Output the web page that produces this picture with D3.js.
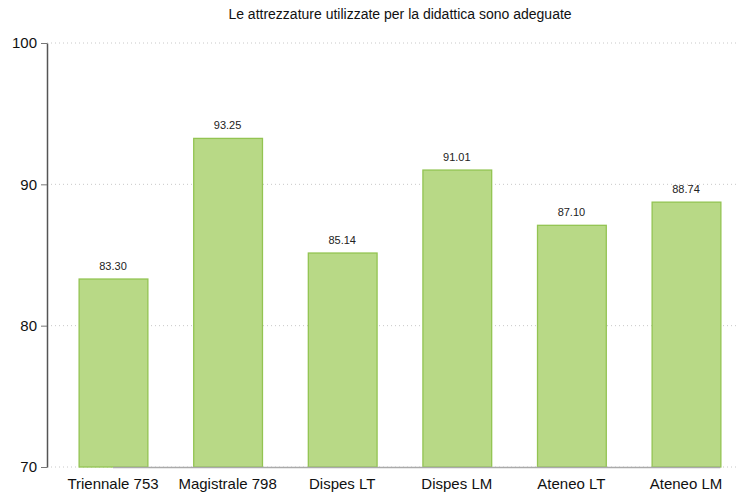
<!DOCTYPE html>
<html><head><meta charset="utf-8">
<script src="https://cdn.jsdelivr.net/npm/d3@7"></script>
<style>body{margin:0;background:#fff}svg{display:block}</style>
</head><body>
<script>
const categories = ["Triennale 753","Magistrale 798","Dispes LT","Dispes LM","Ateneo LT","Ateneo LM"];
const values = [83.30, 93.25, 85.14, 91.01, 87.10, 88.74];
const yTicks = [70, 80, 90, 100];
const title = "Le attrezzature utilizzate per la didattica sono adeguate";

const W = 740, H = 493;
const svg = d3.select("body").append("svg").attr("width", W).attr("height", H);
const font = "'Liberation Sans', Arial, sans-serif";

const y = d3.scaleLinear().domain([70, 100]).range([467, 43]);
const x = d3.scaleBand().domain(categories).range([55.7, 743.3]).paddingInner(0.4).paddingOuter(0.2);

// grid
svg.append("g").selectAll("line").data(yTicks).join("line")
  .attr("x1", 47).attr("x2", 736)
  .attr("y1", d => y(d)).attr("y2", d => y(d))
  .attr("stroke", "#c8c8c8").attr("stroke-width", 1).attr("stroke-dasharray", "1,3");

// bars
svg.append("g").selectAll("rect").data(values).join("rect")
  .attr("x", (d, i) => x(categories[i]) + 0.5)
  .attr("y", d => y(d))
  .attr("width", x.bandwidth())
  .attr("height", d => y(70) - y(d))
  .attr("fill", "#b8d986").attr("stroke", "#93c452").attr("stroke-width", 1.3);

// x baseline
svg.append("line")
  .attr("x1", x(categories[0]) + x.bandwidth() / 2)
  .attr("x2", x(categories[categories.length - 1]) + x.bandwidth())
  .attr("y1", y(70) + 0.5).attr("y2", y(70) + 0.5)
  .attr("stroke", "#aaaaaa").attr("stroke-width", 1.5);

// value labels
svg.append("g").selectAll("text").data(values).join("text")
  .attr("x", (d, i) => x(categories[i]) + x.bandwidth() / 2)
  .attr("y", d => y(d) - 9)
  .attr("text-anchor", "middle")
  .attr("font-family", font).attr("font-size", 11).attr("fill", "#222")
  .text(d => d.toFixed(2));

// y axis
const yAxis = d3.axisLeft(y).tickValues(yTicks).tickSize(6).tickPadding(4).tickSizeOuter(0);
const ga = svg.append("g").attr("transform", "translate(47,0)").call(yAxis);
ga.select(".domain").attr("stroke", "#555").attr("stroke-width", 1.5);
ga.selectAll(".tick line").attr("stroke", "#777");
ga.selectAll("text").attr("font-family", font).attr("font-size", 15).attr("fill", "#111");

// x labels
svg.append("g").selectAll("text").data(categories).join("text")
  .attr("x", d => x(d) + x.bandwidth() / 2)
  .attr("y", 489)
  .attr("text-anchor", "middle")
  .attr("font-family", font).attr("font-size", 15).attr("fill", "#111")
  .text(d => d);

// title
svg.append("text").attr("x", 400).attr("y", 19).attr("text-anchor", "middle")
  .attr("font-family", font).attr("font-size", 14).attr("fill", "#111").text(title);
</script>
</body></html>
